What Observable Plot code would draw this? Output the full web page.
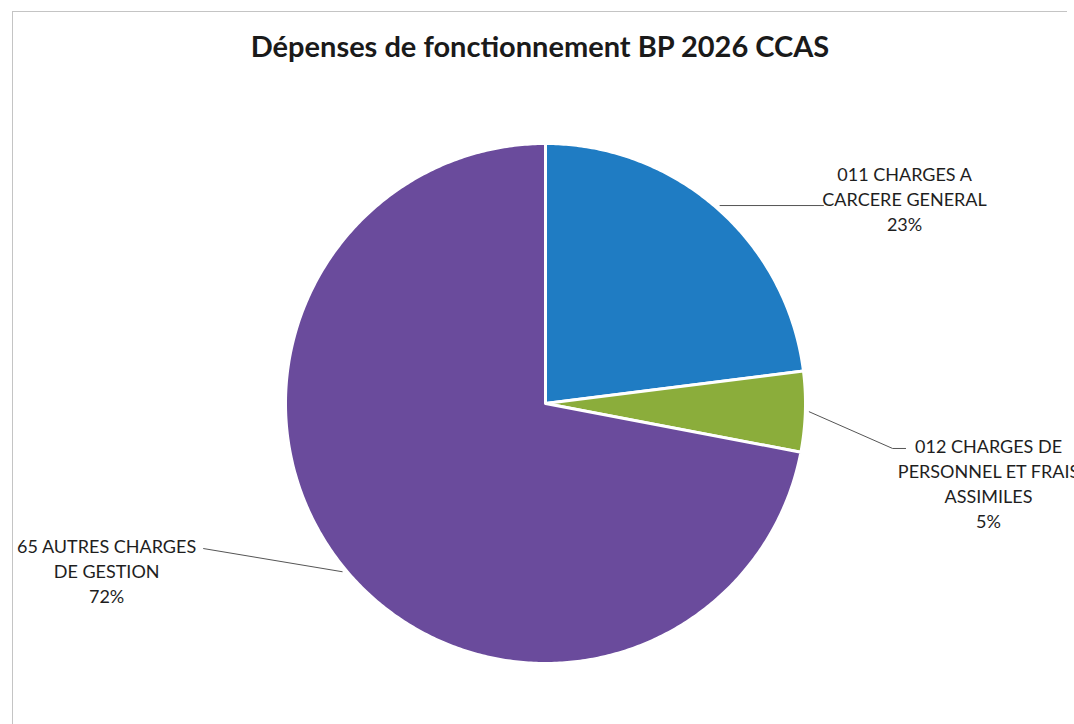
<!DOCTYPE html>
<html>
<head>
<meta charset="utf-8">
<script src="https://cdn.jsdelivr.net/npm/d3@7"></script>
<script src="https://cdn.jsdelivr.net/npm/@observablehq/plot@0.6"></script>
<style>
  html, body { margin: 0; padding: 0; background: #fff; }
  #page { position: relative; width: 1074px; height: 724px; overflow: hidden; background: #fff; }
  #frame { position: absolute; left: 12px; top: 11px; width: 1054px; height: 720px;
           border-left: 1px solid #c4c4c4; border-top: 1px solid #c4c4c4; pointer-events: none; }
  #title { position: absolute; left: 0; top: 0; width: 1080px; height: 70px; text-align: center;
           font-family: Lato, "Noto Sans", sans-serif; font-weight: 700; font-size: 29px;
           line-height: 32px; padding-top: 30px; box-sizing: border-box; color: #1a1a1a; }
  #chart { position: absolute; left: 0; top: 70px; }
</style>
</head>
<body>
<div id="page">
  <div id="frame"></div>
  <div id="title">Dépenses de fonctionnement BP 2026 CCAS</div>
  <div id="chart"></div>
</div>
<script>
// ---- data ----
const categories = [
  "011 CHARGES A CARCERE GENERAL",
  "012 CHARGES DE PERSONNEL ET FRAIS ASSIMILES",
  "65 AUTRES CHARGES DE GESTION"
];
const shares = [23, 5, 72];
const labelLines = [
  ["011 CHARGES A", "CARCERE GENERAL"],
  ["012 CHARGES DE", "PERSONNEL ET FRAIS", "ASSIMILES"],
  ["65 AUTRES CHARGES", "DE GESTION"]
];

// ---- layout / style (not data) ----
const colors = ["#1f7cc3", "#8bad3b", "#6a4b9c"];
const W = 1074, H = 654;
const cx = 545, cy = 333, R = 260;
// label block centres and leader path ends, in pie-radius units
const labelPos = [[1.381, 0.792], [1.704, -0.302], [-1.688, -0.642]];
const leaderEnds = [
  [[1.069, null]],
  [[1.335, -0.173], [1.385, -0.173]],
  [[-1.315, -0.558]]
];

// ---- geometry derived from the data ----
const total = d3.sum(shares);
let acc = 0;
const slices = shares.map((v, i) => {
  const a0 = acc / total * 2 * Math.PI;
  acc += v;
  const a1 = acc / total * 2 * Math.PI;
  return {cat: categories[i], v, a0, a1, mid: (a0 + a1) / 2};
});
const polyRows = [];
slices.forEach(s => {
  polyRows.push({cat: s.cat, x: 0, y: 0});
  const n = Math.max(4, Math.ceil((s.a1 - s.a0) / 0.01));
  for (let k = 0; k <= n; k++) {
    const a = s.a0 + (s.a1 - s.a0) * k / n;
    polyRows.push({cat: s.cat, x: Math.sin(a), y: Math.cos(a)});
  }
});
const leaderRows = [];
slices.forEach((s, i) => {
  const sx = 1.015 * Math.sin(s.mid), sy = 1.015 * Math.cos(s.mid);
  leaderRows.push({cat: s.cat, x: sx, y: sy});
  leaderEnds[i].forEach(([ex, ey]) => leaderRows.push({cat: s.cat, x: ex, y: ey == null ? sy : ey}));
});
const labelRows = slices.map((s, i) => ({
  cat: s.cat,
  x: labelPos[i][0], y: labelPos[i][1],
  text: labelLines[i].concat([Math.round(s.v / total * 100) + "%"]).join("\n")
}));

const plot = Plot.plot({
  width: W, height: H,
  margin: 0,
  style: {background: "transparent", overflow: "visible"},
  x: {domain: [-1, 1], range: [cx - R, cx + R], axis: null},
  y: {domain: [-1, 1], range: [cy + R, cy - R], axis: null},
  color: {domain: categories, range: colors},
  marks: [
    Plot.line(polyRows, {x: "x", y: "y", z: "cat", fill: "cat", stroke: "white", strokeWidth: 3, strokeLinejoin: "round", curve: "linear-closed"}),
    Plot.line(leaderRows, {x: "x", y: "y", z: "cat", stroke: "#555", strokeWidth: 1}),
    Plot.text(labelRows, {x: "x", y: "y", text: "text", fontSize: 18, lineHeight: 1.39, lineAnchor: "middle", textAnchor: "middle", fill: "#1e1e1e", fontFamily: "Lato, 'Noto Sans', sans-serif"})
  ]
});
document.getElementById("chart").appendChild(plot);
</script>
</body>
</html>
